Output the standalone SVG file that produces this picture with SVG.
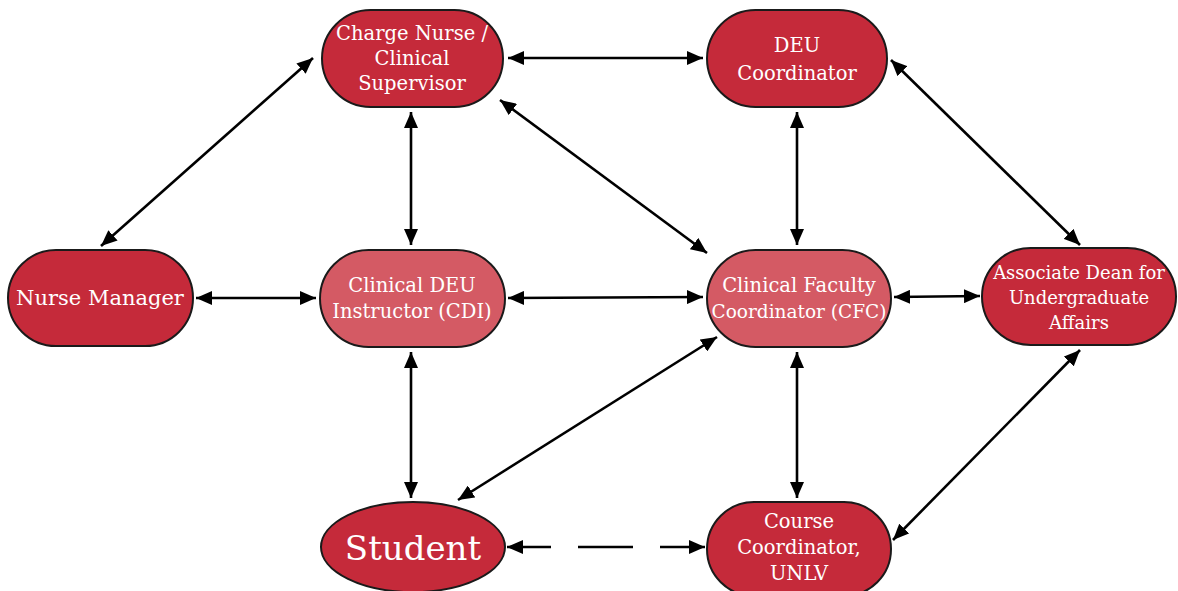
<svg xmlns="http://www.w3.org/2000/svg" width="1178" height="591" viewBox="0 0 1178 591">
<defs>
<marker id="ah" viewBox="0 0 16 14" refX="16" refY="7" markerWidth="16" markerHeight="14" markerUnits="userSpaceOnUse" orient="auto-start-reverse">
<path d="M0,0 L16,7 L0,14 z" fill="#000"/>
</marker>
<style>
.n{fill:#C52A3A;stroke:#1a1a1a;stroke-width:2}
.l{fill:#D45A64;stroke:#1a1a1a;stroke-width:2}
.t{font-family:"DejaVu Serif","Liberation Serif",serif;font-size:19.5px;fill:#fff;text-anchor:middle}
.e{stroke:#000;stroke-width:2.6;fill:none;marker-start:url(#ah);marker-end:url(#ah)}
</style>
</defs>
<rect width="1178" height="591" fill="#fff"/>
<g id="connectors">
<line class="e" x1="313" y1="58" x2="101" y2="246"/>
<line class="e" x1="508" y1="58" x2="703" y2="58"/>
<line class="e" x1="411" y1="112" x2="411" y2="245"/>
<line class="e" x1="500" y1="100" x2="707" y2="253"/>
<line class="e" x1="797" y1="112" x2="797" y2="245"/>
<line class="e" x1="891" y1="60" x2="1080" y2="245"/>
<line class="e" x1="196" y1="298" x2="316" y2="298"/>
<line class="e" x1="508" y1="298" x2="703" y2="297"/>
<line class="e" x1="894" y1="297" x2="980" y2="296"/>
<line class="e" x1="411" y1="352" x2="411" y2="498"/>
<line class="e" x1="717" y1="337" x2="458" y2="500"/>
<line class="e" x1="797" y1="352" x2="797" y2="498"/>
<line class="e" x1="1080" y1="350" x2="893" y2="540"/>
<path class="e" d="M507,547 H551 M578,547 H633 M660,547 H705"/>
</g>
<g id="charge-nurse">
<rect class="n" x="322" y="10" width="181" height="97" rx="48.5"/>
<text class="t" x="412" y="40">Charge Nurse /</text>
<text class="t" x="412" y="65">Clinical</text>
<text class="t" x="412" y="90">Supervisor</text>
</g>
<g id="deu-coordinator">
<rect class="n" x="707" y="10" width="180" height="97" rx="48.5"/>
<text class="t" x="797" y="52">DEU</text>
<text class="t" x="797" y="80">Coordinator</text>
</g>
<g id="nurse-manager">
<rect class="n" x="8" y="250" width="185" height="96" rx="48"/>
<text class="t" x="100" y="305" style="font-size:21px">Nurse Manager</text>
</g>
<g id="cdi">
<rect class="l" x="320" y="250" width="185" height="97" rx="48.5"/>
<text class="t" x="412" y="292">Clinical DEU</text>
<text class="t" x="412" y="318">Instructor (CDI)</text>
</g>
<g id="cfc">
<rect class="l" x="707" y="250" width="184" height="97" rx="48.5"/>
<text class="t" x="799" y="292">Clinical Faculty</text>
<text class="t" x="799" y="318" style="font-size:18.5px">Coordinator (CFC)</text>
</g>
<g id="associate-dean">
<rect class="n" x="982" y="248" width="194" height="97" rx="48.5"/>
<text class="t" x="1079" y="279" style="font-size:18px">Associate Dean for</text>
<text class="t" x="1079" y="304" style="font-size:18px">Undergraduate</text>
<text class="t" x="1079" y="329" style="font-size:18px">Affairs</text>
</g>
<g id="student">
<ellipse class="n" cx="413" cy="547" rx="92" ry="45"/>
<text class="t" x="413" y="560" style="font-size:34px">Student</text>
</g>
<g id="course-coordinator">
<rect class="n" x="707" y="502" width="184" height="94" rx="47"/>
<text class="t" x="799" y="528">Course</text>
<text class="t" x="799" y="554">Coordinator,</text>
<text class="t" x="799" y="580">UNLV</text>
</g>
</svg>
